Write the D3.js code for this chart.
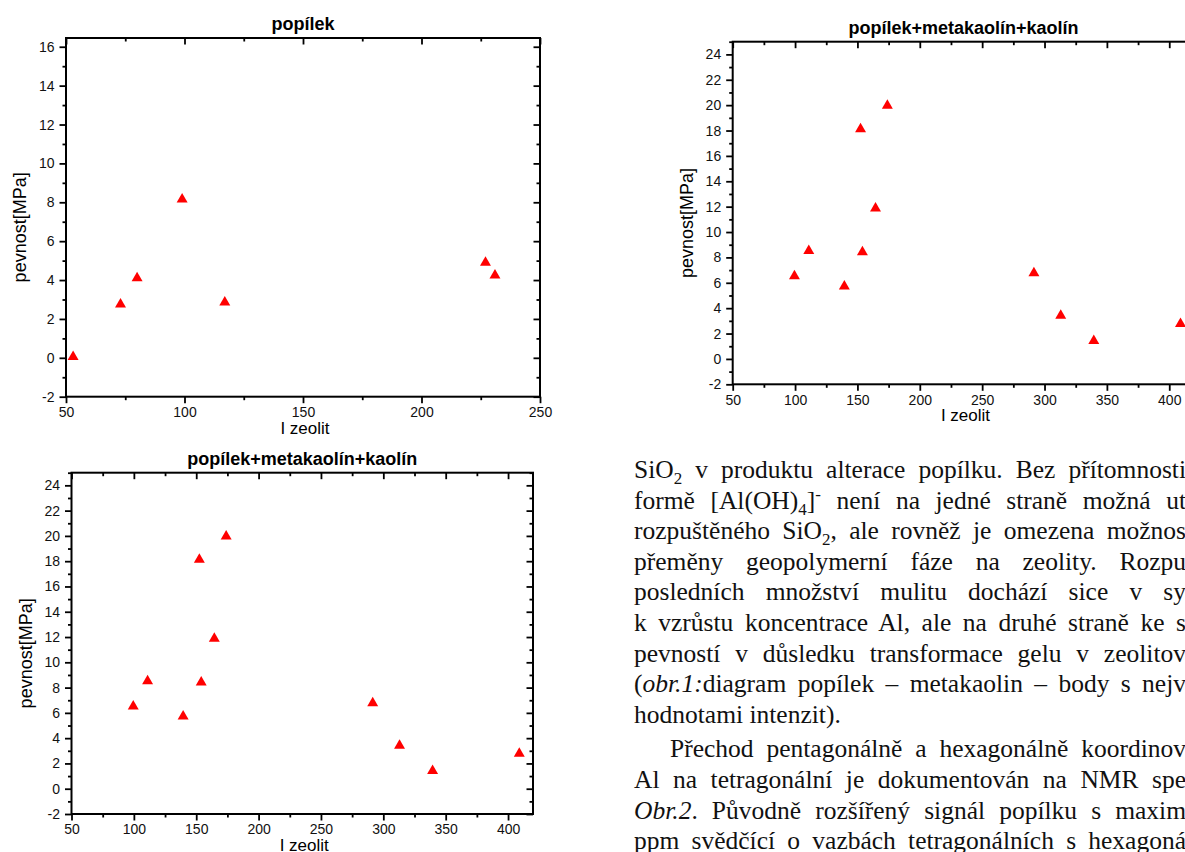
<!DOCTYPE html>
<html>
<head>
<meta charset="utf-8">
<script src="https://cdn.jsdelivr.net/npm/d3@7"></script>
<style>
body { margin: 0; background: #fff; }
svg { display: block; }
</style>
</head>
<body>
<svg id="page"></svg>
<script>
var width = 1185,
    height = 852;

// popílek
var zeolitA = [53, 73, 80, 99, 117, 227, 231];
var pevnostA = [0.1, 2.8, 4.15, 8.2, 2.9, 4.95, 4.3];

// popílek+metakaolín+kaolín
var zeolitB = [99.5, 111, 139.5, 152.5, 154, 164.5, 174, 291.5, 313, 339.5, 409];
var pevnostB = [6.6, 8.6, 5.8, 18.2, 8.5, 11.95, 20.05, 6.85, 3.5, 1.5, 2.85];

var titleA = "popílek";
var titleB = "popílek+metakaolín+kaolín";
var xTitle = "I zeolit";
var yTitle = "pevnost[MPa]";

var xTicksA = [50, 100, 150, 200, 250];
var xTicksB = [50, 100, 150, 200, 250, 300, 350, 400];
var yTicksA = [-2, 0, 2, 4, 6, 8, 10, 12, 14, 16];
var yTicksB = [-2, 0, 2, 4, 6, 8, 10, 12, 14, 16, 18, 20, 22, 24];

// text column on the right, one entry per printed line
var textLines = [
    [{t: "SiO"}, {t: "2", sub: true}, {t: " v produktu alterace popílku. Bez přítomnosti"}],
    [{t: "formě [Al(OH)"}, {t: "4", sub: true}, {t: "]"}, {t: "-", sup: true}, {t: " není na jedné straně možná ut"}],
    [{t: "rozpuštěného SiO"}, {t: "2", sub: true}, {t: ", ale rovněž je omezena možnos"}],
    [{t: "přeměny geopolymerní fáze na zeolity. Rozpu"}],
    [{t: "posledních množství mulitu dochází sice v sy"}],
    [{t: "k vzrůstu koncentrace Al, ale na druhé straně ke s"}],
    [{t: "pevností v důsledku transformace gelu v zeolitov"}],
    [{t: "("}, {t: "obr.1:", it: true}, {t: "diagram popílek – metakaolin – body s nejv"}],
    [{t: "hodnotami intenzit)."}],
    [{t: "Přechod pentagonálně a hexagonálně koordinov"}],
    [{t: "Al na tetragonální je dokumentován na NMR spe"}],
    [{t: "Obr.2", it: true}, {t: ". Původně rozšířený signál popílku s maxim"}],
    [{t: "ppm svědčící o vazbách tetragonálních s hexagoná"}]
];
var justified = [true, true, true, true, true, true, true, true, false, true, true, true, true];

var svg = d3.select("#page").attr("width", width).attr("height", height);
svg.append("rect").attr("width", width).attr("height", height).attr("fill", "#fff");

var sans = "'Liberation Sans', Arial, sans-serif";

function drawPanel(box, xDomain, yDomain, xs, ys, title, xTicks, yTicks) {
    var x = d3.scaleLinear().domain(xDomain).range([box.left, box.right]);
    var y = d3.scaleLinear().domain(yDomain).range([box.bottom, box.top]);
    var g = svg.append("g");

    var xMinor = d3.range(xDomain[0], xDomain[1] + 0.01, 25).filter(function(d) { return xTicks.indexOf(d) < 0; });
    var yMinor = d3.range(Math.ceil(yDomain[0]), yDomain[1] + 0.01, 1).filter(function(d) { return yTicks.indexOf(d) < 0; });

    // outer ticks with labels (left, bottom)
    g.append("g").attr("transform", "translate(" + box.left + ",0)")
        .call(d3.axisLeft(y).tickValues(yTicks).tickSize(6.5).tickPadding(5).tickFormat(function(d) { return String(d); }));
    g.append("g").attr("transform", "translate(" + box.left + ",0)")
        .call(d3.axisLeft(y).tickValues(yMinor).tickSize(3.5).tickFormat(""));
    g.append("g").attr("transform", "translate(0," + box.bottom + ")")
        .call(d3.axisBottom(x).tickValues(xTicks).tickSize(6.5).tickPadding(4).tickFormat(function(d) { return String(d); }));
    g.append("g").attr("transform", "translate(0," + box.bottom + ")")
        .call(d3.axisBottom(x).tickValues(xMinor).tickSize(3.5).tickFormat(""));
    // mirrored inner ticks (right, top)
    g.append("g").attr("transform", "translate(" + box.right + ",0)")
        .call(d3.axisLeft(y).tickValues(yTicks).tickSize(6.5).tickFormat(""));
    g.append("g").attr("transform", "translate(" + box.right + ",0)")
        .call(d3.axisLeft(y).tickValues(yMinor).tickSize(3.5).tickFormat(""));
    g.append("g").attr("transform", "translate(0," + box.top + ")")
        .call(d3.axisBottom(x).tickValues(xTicks).tickSize(6.5).tickFormat(""));
    g.append("g").attr("transform", "translate(0," + box.top + ")")
        .call(d3.axisBottom(x).tickValues(xMinor).tickSize(3.5).tickFormat(""));

    g.selectAll(".domain").remove();
    g.selectAll(".tick line").attr("stroke", "#000").attr("stroke-width", 1.8);
    g.selectAll(".tick text").attr("fill", "#111").style("font-family", sans).style("font-size", "14px");

    g.append("rect")
        .attr("x", box.left).attr("y", box.top)
        .attr("width", box.right - box.left).attr("height", box.bottom - box.top)
        .attr("fill", "none").attr("stroke", "#000").attr("stroke-width", 2);

    g.append("text")
        .attr("x", (box.left + box.right) / 2).attr("y", box.top - 8)
        .attr("text-anchor", "middle")
        .style("font-family", sans).style("font-size", "18px").style("font-weight", "bold")
        .text(title);
    g.append("text")
        .attr("x", (box.left + box.right) / 2 + 2).attr("y", box.bottom + 37)
        .attr("text-anchor", "middle")
        .style("font-family", sans).style("font-size", "17px")
        .text(xTitle);
    g.append("text")
        .attr("transform", "translate(" + (box.left - 40) + "," + ((box.top + box.bottom) / 2 + 10) + ") rotate(-90)")
        .attr("text-anchor", "middle")
        .style("font-family", sans).style("font-size", "18px")
        .text(yTitle);

    var tri = d3.symbol().type(d3.symbolTriangle).size(52);
    g.selectAll(".point").data(xs)
        .enter()
        .append("path")
            .attr("d", tri)
            .attr("transform", function(d, i) { return "translate(" + x(d) + "," + (y(ys[i]) + 1) + ")"; })
            .style("fill", "#ff0000");
}

drawPanel({left: 66, right: 540, top: 38, bottom: 396.7}, [50, 250], [-2, 16.45],
    zeolitA, pevnostA, titleA, xTicksA, yTicksA);
drawPanel({left: 71.5, right: 533, top: 472.7, bottom: 814}, [50, 420], [-2, 25],
    zeolitB, pevnostB, titleB, xTicksB, yTicksB);
drawPanel({left: 732.7, right: 1194.2, top: 41.7, bottom: 384.3}, [50, 420], [-2, 25],
    zeolitB, pevnostB, titleB, xTicksB, yTicksB);

// body text, justified lines run past the right edge of the page
var textG = svg.append("g")
    .style("font-family", "'Liberation Serif', 'Times New Roman', serif")
    .style("font-size", "25.5px")
    .attr("fill", "#111");

textLines.forEach(function(line, i) {
    var x0 = i === 9 ? 670 : 634;
    var y0 = 478 + i * 30.6 + (i >= 9 ? 4 : 0);
    var t = textG.append("text").attr("x", x0).attr("y", y0);
    var shift = 0;
    line.forEach(function(seg) {
        var dy = 0;
        if (seg.sub) dy = 6 - shift;
        else if (seg.sup) dy = -9 - shift;
        else dy = -shift;
        var s = t.append("tspan").attr("dy", dy).text(seg.t);
        if (seg.sub || seg.sup) s.style("font-size", "17px");
        if (seg.it) s.style("font-style", "italic");
        shift += dy;
    });
    if (justified[i]) {
        var natural = t.node().getComputedTextLength();
        var spaces = line.map(function(s) { return s.t; }).join("").split(" ").length - 1;
        t.style("word-spacing", ((1186 - x0 - natural) / spaces) + "px");
    }
});
</script>
</body>
</html>
